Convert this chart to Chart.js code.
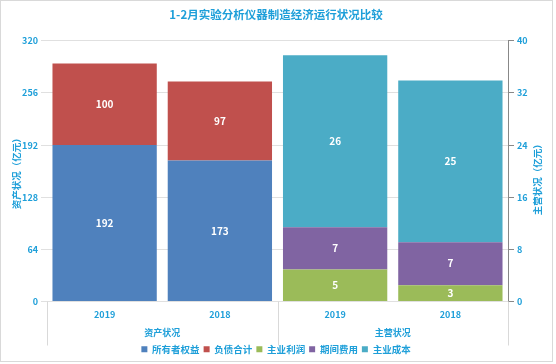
<!DOCTYPE html>
<html>
<head>
<meta charset="utf-8">
<script src="https://cdn.jsdelivr.net/npm/chart.js@4/dist/chart.umd.min.js"></script>
<style>
  html, body { margin: 0; padding: 0; background: #fff; }
  #wrap { width: 556px; height: 364px; }
</style>
</head>
<body>
<div id="wrap"><canvas id="chart" width="556" height="364"></canvas></div>
<script>
const categories = ["2019", "2018", "2019", "2018"];
const groups = ["资产状况", "主营状况"];
const ownerEquity = [192, 173, null, null];
const totalLiabilities = [100, 97, null, null];
const mainProfit = [null, null, 4.9, 2.5];
const periodExpense = [null, null, 6.5, 6.6];
const mainCost = [null, null, 26.4, 24.8];

const textColor = "#1E9FD9";
const font = "'Noto Sans CJK SC', 'Noto Sans', sans-serif";

// white value labels in the middle of each bar segment
const valueLabels = {
  id: "valueLabels",
  afterDatasetsDraw(chart) {
    const c = chart.ctx;
    c.save();
    c.fillStyle = "#fff";
    c.font = "bold 10px " + font;
    c.textAlign = "center";
    c.textBaseline = "middle";
    chart.data.datasets.forEach((ds, i) => {
      chart.getDatasetMeta(i).data.forEach((bar, j) => {
        const v = ds.data[j];
        if (v == null) return;
        c.fillText(Math.round(v), bar.x, (bar.y + bar.base) / 2);
      });
    });
    c.restore();
  }
};

// group row under the years, separators, right axis title and outer frame
const groupRow = {
  id: "groupRow",
  afterDraw(chart) {
    const c = chart.ctx;
    const x = chart.scales.x;
    const area = chart.chartArea;
    const mid = (x.getPixelForValue(1) + x.getPixelForValue(2)) / 2;
    c.save();
    c.strokeStyle = "#d9d9d9";
    c.lineWidth = 1;
    [area.left, mid, area.right].forEach(px => {
      c.beginPath();
      c.moveTo(Math.round(px) + 0.5, area.bottom);
      c.lineTo(Math.round(px) + 0.5, area.bottom + 44);
      c.stroke();
    });
    c.fillStyle = textColor;
    c.font = "bold 9px " + font;
    c.textAlign = "center";
    c.textBaseline = "middle";
    c.fillText(groups[0], (area.left + mid) / 2, area.bottom + 31);
    c.fillText(groups[1], (mid + area.right) / 2, area.bottom + 31);

    c.font = "bold 9.5px " + font;
    c.translate(537, (area.top + area.bottom) / 2 + 6);
    c.rotate(-Math.PI / 2);
    c.fillText("主营状况（亿元）", 0, 0);
    c.restore();

    c.save();
    c.strokeStyle = "#d9d9d9";
    c.strokeRect(0.5, 0.5, 552, 361);
    c.restore();
  }
};

new Chart(document.getElementById("chart"), {
  type: "bar",
  data: {
    labels: categories,
    datasets: [
      { label: "所有者权益", data: ownerEquity, backgroundColor: "#4F81BD", yAxisID: "y", stack: "a" },
      { label: "负债合计", data: totalLiabilities, backgroundColor: "#C0504D", yAxisID: "y", stack: "a" },
      { label: "主业利润", data: mainProfit, backgroundColor: "#9BBB59", yAxisID: "y1", stack: "b" },
      { label: "期间费用", data: periodExpense, backgroundColor: "#8064A2", yAxisID: "y1", stack: "b" },
      { label: "主业成本", data: mainCost, backgroundColor: "#4BACC6", yAxisID: "y1", stack: "b" }
    ]
  },
  options: {
    responsive: false,
    animation: false,
    layout: { padding: { left: 0, right: 4, top: 0, bottom: 0 } },
    datasets: { bar: { barPercentage: 1, categoryPercentage: 0.905, skipNull: true } },
    plugins: {
      title: {
        display: true,
        text: "1-2月实验分析仪器制造经济运行状况比较",
        color: textColor,
        font: { family: font, size: 11.5, weight: "bold" },
        padding: { top: 8, bottom: 19 }
      },
      legend: {
        position: "bottom",
        labels: {
          color: textColor,
          font: { family: font, size: 9.5, weight: "bold" },
          boxWidth: 6,
          boxHeight: 6,
          padding: 4
        }
      },
      tooltip: { enabled: false }
    },
    scales: {
      x: {
        stacked: true,
        grid: { display: false },
        border: { display: false },
        ticks: { color: textColor, font: { family: font, size: 9, weight: "bold" }, padding: 0 },
        afterFit(s) { s.height = 39; }
      },
      y: {
        position: "left",
        stacked: true,
        min: 0,
        max: 320,
        ticks: { stepSize: 64, color: textColor, font: { family: font, size: 9, weight: "bold" }, padding: 3 },
        grid: { color: "#e0e0e0", tickLength: 6 },
        border: { display: false },
        title: {
          display: true,
          text: "资产状况（亿元）",
          color: textColor,
          font: { family: font, size: 9.5, weight: "bold" },
          padding: { top: 11, bottom: 0 }
        },
        afterFit(s) { s.width = 47; }
      },
      y1: {
        position: "right",
        stacked: true,
        min: 0,
        max: 40,
        ticks: { stepSize: 8, color: textColor, font: { family: font, size: 9, weight: "bold" }, padding: 3 },
        grid: { drawOnChartArea: false, color: "#888", tickLength: 6 },
        border: { display: true, color: "#888" },
        afterFit(s) { s.width = 44; }
      }
    }
  },
  plugins: [valueLabels, groupRow]
});
</script>
</body>
</html>
